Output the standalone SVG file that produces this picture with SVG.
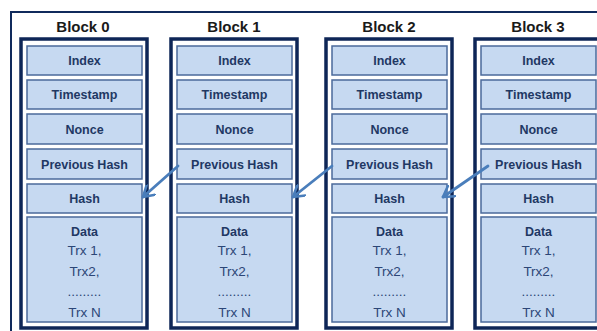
<svg xmlns="http://www.w3.org/2000/svg" width="597" height="331" viewBox="0 0 597 331">
  <defs>
    <style>
      .frame { fill: #ffffff; stroke: #102a5c; stroke-width: 2; }
      .block { fill: #ffffff; stroke: #0e2657; stroke-width: 3.5; }
      .cell { fill: #c6d9f1; stroke: #4b6a9b; stroke-width: 1.5; }
      .title { font-family: "Liberation Sans", Arial, sans-serif; font-size: 15px; font-weight: bold; fill: #1a1a1a; text-anchor: middle; }
      .lbl { font-family: "Liberation Sans", Arial, sans-serif; font-size: 12.5px; font-weight: bold; fill: #1f3864; text-anchor: middle; }
      .item { font-family: "Liberation Sans", Arial, sans-serif; font-size: 13.5px; fill: #2c4677; text-anchor: middle; }
      .link { fill: none; stroke: #4a7ebb; stroke-width: 2.8; stroke-linecap: round; }
    </style>
    <marker id="head" viewBox="0 0 12 12" refX="10" refY="6" markerWidth="5" markerHeight="5" orient="auto" markerUnits="strokeWidth">
      <path d="M1,0.5 L10,6 L1,11.5" fill="none" stroke="#4a7ebb" stroke-width="2.2" stroke-linecap="round" stroke-linejoin="round"/>
    </marker>
    <g id="cells">
      <rect class="cell" x="6" y="7" width="115" height="29"/>
      <rect class="cell" x="6" y="41" width="115" height="29"/>
      <rect class="cell" x="6" y="75" width="115" height="30"/>
      <rect class="cell" x="6" y="110" width="115" height="30"/>
      <rect class="cell" x="6" y="145" width="115" height="29"/>
      <rect class="cell" x="6" y="178" width="115" height="105"/>
      <text class="lbl" x="63.5" y="26">Index</text>
      <text class="lbl" x="63.5" y="60">Timestamp</text>
      <text class="lbl" x="63.5" y="95">Nonce</text>
      <text class="lbl" x="63.5" y="130">Previous Hash</text>
      <text class="lbl" x="63.5" y="164">Hash</text>
      <text class="lbl" x="63.5" y="197">Data</text>
      <text class="item" x="63.5" y="216">Trx 1,</text>
      <text class="item" x="63.5" y="237">Trx2,</text>
      <text class="item" x="63.5" y="257">.........</text>
      <text class="item" x="63.5" y="278">Trx N</text>
    </g>
  </defs>

  <!-- surrounding frame, running off the right and bottom edges -->
  <rect class="frame" x="11" y="12" width="600" height="330"/>

  <g id="block0">
    <text class="title" x="83" y="32">Block 0</text>
    <rect class="block" x="21" y="39" width="126" height="289"/>
    <use href="#cells" transform="translate(21,39)"/>
  </g>
  <g id="block1">
    <text class="title" x="234" y="32">Block 1</text>
    <rect class="block" x="171" y="39" width="126" height="289"/>
    <use href="#cells" transform="translate(171,39)"/>
  </g>
  <g id="block2">
    <text class="title" x="389" y="32">Block 2</text>
    <rect class="block" x="326" y="39" width="126" height="289"/>
    <use href="#cells" transform="translate(326,39)"/>
  </g>
  <g id="block3">
    <text class="title" x="538" y="32">Block 3</text>
    <rect class="block" x="475" y="39" width="126" height="289"/>
    <use href="#cells" transform="translate(475,39)"/>
  </g>

  <!-- previous-hash links back to the prior block's hash -->
  <g id="links">
    <line class="link" x1="178" y1="166" x2="143" y2="197" marker-end="url(#head)"/>
    <line class="link" x1="332" y1="166" x2="293" y2="197" marker-end="url(#head)"/>
    <line class="link" x1="488" y1="166" x2="443" y2="197" marker-end="url(#head)"/>
  </g>
</svg>
